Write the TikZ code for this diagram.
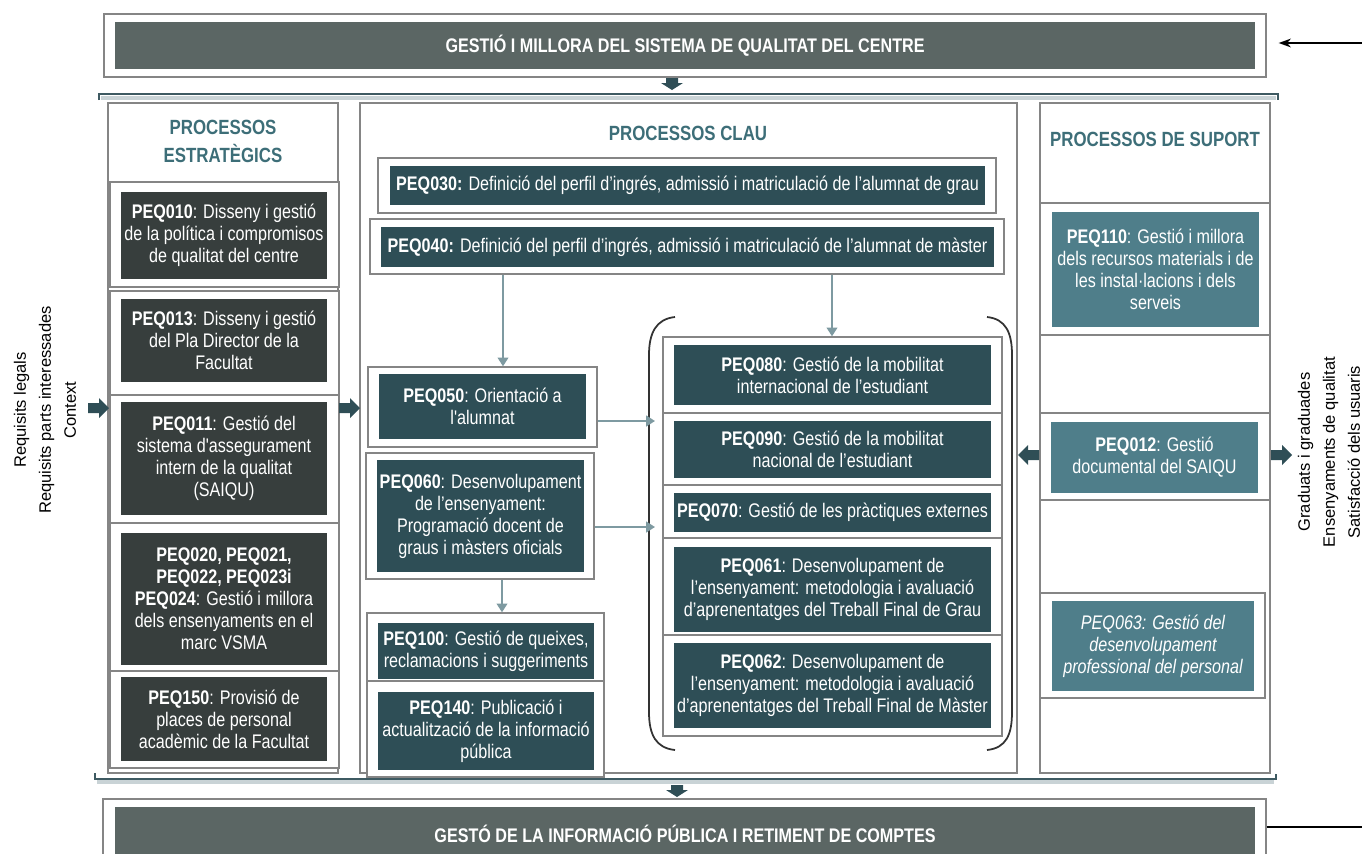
\documentclass[tikz,border=0pt]{standalone}
\usepackage{fontspec}
\setmainfont{Liberation Sans}
\newfontfamily\boxfont{Liberation Sans}[FakeStretch=0.82]
\usepackage{tikz}
\usetikzlibrary{fit,arrows.meta}

\definecolor{bandc}{HTML}{5B6664}
\definecolor{stratc}{HTML}{373E3D}
\definecolor{keyc}{HTML}{2E4E56}
\definecolor{suppc}{HTML}{4F7E8A}
\definecolor{headc}{HTML}{3D6E78}
\definecolor{framec}{HTML}{858585}
\definecolor{linkc}{HTML}{7E9AA1}
\definecolor{fatc}{HTML}{2F4E56}
\definecolor{rulec}{HTML}{3E5A62}
\definecolor{shadec}{HTML}{C9D3D6}

\tikzset{
  frame/.style={draw=framec, line width=0.75pt, fill=white, inner sep=0pt},
  corners/.style args={#1/#2/#3/#4}{at={({(#1+#3)/2},{(#2+#4)/2})},
    minimum width={(#3-#1)*0.02cm}, minimum height={(#4-#2)*0.02cm}},
  peq/.style={fill=#1, text=white, inner sep=0pt, align=center,
    font=\boxfont\fontsize{11.2}{12.5}\selectfont},
  band/.style={fill=bandc, text=white, inner sep=0pt,
    font=\boxfont\fontsize{11.2}{12.5}\selectfont\bfseries},
  head/.style={text=headc, align=center,
    font=\boxfont\fontsize{11.7}{15.9}\selectfont\bfseries},
  side/.style={rotate=90, align=center, font=\fontsize{9.4}{14.2}\selectfont},
  link/.style={draw=linkc, line width=1.2pt, -{Triangle[width=6pt,length=5pt]}},
  rule/.style={draw=rulec, line width=1.2pt},
  fatarrow/.pic={\fill[fatc] (-10,-5) -- (1,-5) -- (1,-10) -- (11,0) -- (1,10) -- (1,5) -- (-10,5) -- cycle;},
  droparrow/.pic={\fill[fatc] (-6,-6) -- (-1,-6) -- (-1,-11) -- (6,0) -- (-1,11) -- (-1,6) -- (-6,6) -- cycle;}
}

\begin{document}
\begin{tikzpicture}[x=0.02cm, y=-0.02cm]
\useasboundingbox (0,0) rectangle (1362,853);
\clip (0,0) rectangle (1362,853);

\node[frame, fit={(104,14) (1266,77)}] (topbox) {};
\node[band, corners=115/22/1255/69] (topband) {GESTIÓ I MILLORA DEL SISTEMA DE QUALITAT DEL CENTRE};
\coordinate (topin) at (1362,43);
\draw[line width=0.9pt, -{Stealth[length=7pt,width=5pt]}, shorten >=0.24cm] (topin) -- (topbox.east |- topin);
\pic[rotate=-90] at (672,84) {droparrow};

\draw[shadec, line width=2pt] (101,98) -- (1276,98);
\draw[rule] (99,100) -- (99,94) -- (1278,94) -- (1278,100);

\node[frame, fit={(108,103) (338,773)}] (strat) {};
\node[frame, fit={(360,103) (1017,773)}] (key) {};
\node[frame, fit={(1040,103) (1270,773)}] (supp) {};

\node[head] (hstrat) at (223,141) {PROCESSOS\\ESTRATÈGICS};
\node[head] (hkey) at (688,133) {PROCESSOS CLAU};
\node[head] (hsupp) at (1155,139) {PROCESSOS DE SUPORT};

\node[frame, fit={(110,182) (339,287)}] (w010) {};
\node[frame, fit={(110,291) (339,395)}] (w013) {};
\node[frame, fit={(110,395) (339,523)}] (w011) {};
\node[frame, fit={(110,523) (339,671)}] (w020) {};
\node[frame, fit={(110,671) (339,768)}] (w150) {};

\node[peq=stratc, corners=121/192/327/279] (peq010) {\textbf{PEQ010}: Disseny i gestió\\de la política i compromisos\\de qualitat del centre};
\node[peq=stratc, corners=121/299/327/382] (peq013) {\textbf{PEQ013}: Disseny i gestió\\del Pla Director de la\\Facultat};
\node[peq=stratc, corners=121/402/327/515] (peq011) {\textbf{PEQ011}: Gestió del\\sistema d'assegurament\\intern de la qualitat\\(SAIQU)};
\node[peq=stratc, corners=121/533/327/665] (peq020) {\textbf{PEQ020, PEQ021,}\\\textbf{PEQ022, PEQ023i}\\\textbf{PEQ024}: Gestió i millora\\dels ensenyaments en el\\marc VSMA};
\node[peq=stratc, corners=121/677/327/761] (peq150) {\textbf{PEQ150}: Provisió de\\places de personal\\acadèmic de la Facultat};

\node[frame, fit={(378,158) (996,213)}] (w030) {};
\node[frame, fit={(370,219) (1004,274)}] (w040) {};
\node[frame, fit={(368,367) (597,447)}] (w050) {};
\node[frame, fit={(366,453) (594,579)}] (w060) {};
\node[frame, fit={(367,613) (604,681)}] (w100) {};
\node[frame, fit={(367,681) (604,777)}] (w140) {};

\node[peq=keyc, corners=390/166/985/205] (peq030) {\textbf{PEQ030:} Definició del perfil d’ingrés, admissió i matriculació de l’alumnat de grau};
\node[peq=keyc, corners=381/227/994/267] (peq040) {\textbf{PEQ040:} Definició del perfil d’ingrés, admissió i matriculació de l’alumnat de màster};
\node[peq=keyc, corners=379/374/586/439] (peq050) {\textbf{PEQ050}: Orientació a\\l'alumnat};
\node[peq=keyc, corners=377/460/584/572] (peq060) {\textbf{PEQ060}: Desenvolupament\\de l’ensenyament:\\Programació docent de\\graus i màsters oficials};
\node[peq=keyc, corners=378/623/594/679] (peq100) {\textbf{PEQ100}: Gestió de queixes,\\reclamacions i suggeriments};
\node[peq=keyc, corners=378/692/594/770] (peq140) {\textbf{PEQ140}: Publicació i\\actualització de la informació\\pública};

\node[frame, fit={(663,337) (1002,413)}] (w080) {};
\node[frame, fit={(663,413) (1002,485)}] (w090) {};
\node[frame, fit={(663,485) (1002,538)}] (w070) {};
\node[frame, fit={(663,538) (1002,635)}] (w061) {};
\node[frame, fit={(663,635) (1002,736)}] (w062) {};

\node[peq=keyc, corners=674/345/991/405] (peq080) {\textbf{PEQ080}: Gestió de la mobilitat\\internacional de l’estudiant};
\node[peq=keyc, corners=674/421/991/478] (peq090) {\textbf{PEQ090}: Gestió de la mobilitat\\nacional de l’estudiant};
\node[peq=keyc, corners=674/493/991/532] (peq070) {\textbf{PEQ070}: Gestió de les pràctiques externes};
\node[peq=keyc, corners=674/547/991/632] (peq061) {\textbf{PEQ061}: Desenvolupament de\\l’ensenyament: metodologia i avaluació\\d’aprenentatges del Treball Final de Grau};
\node[peq=keyc, corners=674/643/991/728] (peq062) {\textbf{PEQ062}: Desenvolupament de\\l’ensenyament: metodologia i avaluació\\d’aprenentatges del Treball Final de Màster};

\draw[black!80, line width=1pt] (675,317) .. controls (656,319) and (649,333) .. (649,355) -- (649,712) .. controls (649,735) and (656,748) .. (675,750);
\draw[black!80, line width=1pt] (987,317) .. controls (1006,319) and (1012,333) .. (1012,355) -- (1012,712) .. controls (1012,735) and (1006,748) .. (987,750);

\coordinate (c1) at (503,0);
\coordinate (c2) at (832,0);
\coordinate (c3) at (502,0);
\coordinate (r50) at (655,421);
\coordinate (r60) at (655,527);
\draw[link] (w040.south -| c1) -- (w050.north -| c1);
\draw[link] (w040.south -| c2) -- (w080.north -| c2);
\draw[link] (w050.east |- r50) -- (r50);
\draw[link] (w060.east |- r60) -- (r60);
\draw[link] (w060.south -| c3) -- (w100.north -| c3);

\node[frame, fit={(1040,203) (1270,335)}] (w110) {};
\node[frame, fit={(1040,413) (1270,500)}] (w012) {};
\node[frame, fit={(1040,593) (1265,698)}] (w063) {};

\node[peq=suppc, corners=1052/212/1259/327] (peq110) {\textbf{PEQ110}: Gestió i millora\\dels recursos materials i de\\les instal·lacions i dels\\serveis};
\node[peq=suppc, corners=1051/422/1258/493] (peq012) {\textbf{PEQ012}: Gestió\\documental del SAIQU};
\node[peq=suppc, corners=1052/601/1254/691, font=\boxfont\fontsize{11.2}{12.5}\selectfont\itshape] (peq063) {PEQ063: Gestió del\\desenvolupament\\professional del personal};

\pic at (98,408) {fatarrow};
\pic at (349,408) {fatarrow};
\pic[rotate=180] at (1029,455) {fatarrow};
\pic at (1281,455) {fatarrow};

\node[side] (inputs) at (45,410) {Requisits legals\\Requisits parts interessades\\Context};
\node[side] (outputs) at (1329,452) {Graduats i graduades\\Ensenyaments de qualitat\\Satisfacció dels usuaris};

\draw[shadec, line width=2pt] (97,782) -- (1274,782);
\draw[rule] (95,773) -- (95,779) -- (1276,779) -- (1276,774);
\pic[rotate=-90] at (677,791) {droparrow};

\node[frame, fit={(103,799) (1266,870)}] (botbox) {};
\node[band, corners=115/807/1255/860] (botband) {GESTÓ DE LA INFORMACIÓ PÚBLICA I RETIMENT DE COMPTES};
\coordinate (botout) at (1362,827);
\draw[line width=0.9pt] (botbox.east |- botout) -- (botout);
\end{tikzpicture}
\end{document}
